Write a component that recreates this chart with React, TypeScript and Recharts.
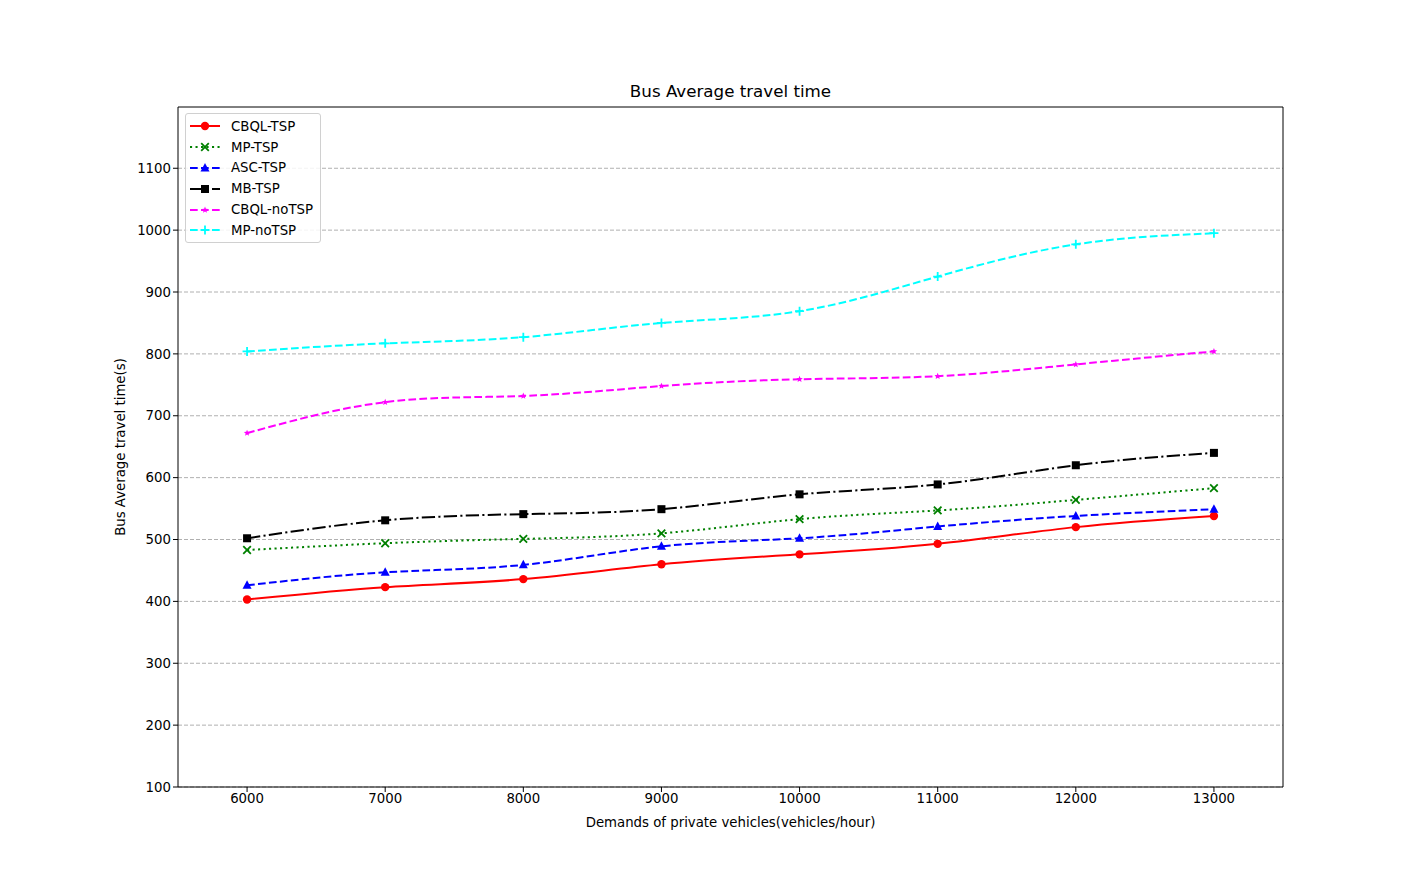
import React from 'react'
import { CartesianGrid, Legend, Line, LineChart, ReferenceLine, XAxis, YAxis } from 'recharts'

const demands = [6000, 7000, 8000, 9000, 10000, 11000, 12000, 13000]
const cbqlTsp = [403, 423, 436, 460, 476, 493, 520, 538]
const mpTsp = [483, 494, 501, 510, 533, 547, 564, 583]
const ascTsp = [426, 447, 459, 489, 502, 521, 538, 549]
const mbTsp = [502, 531, 541, 549, 573, 589, 620, 640]
const cbqlNoTsp = [672, 722, 732, 748, 759, 764, 783, 804]
const mpNoTsp = [804, 817, 827, 850, 869, 925, 977, 995]
const yTicks = [100, 200, 300, 400, 500, 600, 700, 800, 900, 1000, 1100]
const xTicks = [6000, 7000, 8000, 9000, 10000, 11000, 12000, 13000]

const FONT = '"DejaVu Sans", sans-serif'
const X_DOMAIN = [5500, 13500]
const Y_DOMAIN = [100, 1199]

type Shape = 'circle' | 'x' | 'triangle' | 'square' | 'star' | 'plus'

const series: { key: string; name: string; values: number[]; color: string; dash?: string; shape: Shape }[] = [
  { key: 'cbqlTsp', name: 'CBQL-TSP', values: cbqlTsp, color: '#ff0000', shape: 'circle' },
  { key: 'mpTsp', name: 'MP-TSP', values: mpTsp, color: '#008000', dash: '2.1 3.4', shape: 'x' },
  { key: 'ascTsp', name: 'ASC-TSP', values: ascTsp, color: '#0000ff', dash: '7.7 3.3', shape: 'triangle' },
  { key: 'mbTsp', name: 'MB-TSP', values: mbTsp, color: '#000000', dash: '13.3 3.3 2.1 3.3', shape: 'square' },
  { key: 'cbqlNoTsp', name: 'CBQL-noTSP', values: cbqlNoTsp, color: '#ff00ff', dash: '7.7 3.3', shape: 'star' },
  { key: 'mpNoTsp', name: 'MP-noTSP', values: mpNoTsp, color: '#00ffff', dash: '7.7 3.3', shape: 'plus' },
]

const data = demands.map((d, i) => {
  const row: Record<string, number> = { demand: d }
  series.forEach(s => { row[s.key] = s.values[i] })
  return row
})

const Marker = ({ cx, cy, shape, color }: { cx: number; cy: number; shape: Shape; color: string }) => {
  switch (shape) {
    case 'circle':
      return <circle cx={cx} cy={cy} r={4.2} fill={color} />
    case 'x':
      return <path d={`M${cx - 3.8},${cy - 3.8}L${cx + 3.8},${cy + 3.8}M${cx - 3.8},${cy + 3.8}L${cx + 3.8},${cy - 3.8}`} stroke={color} strokeWidth={1.8} />
    case 'triangle':
      return <path d={`M${cx},${cy - 5}L${cx + 4.5},${cy + 3.5}L${cx - 4.5},${cy + 3.5}Z`} fill={color} />
    case 'square':
      return <rect x={cx - 4} y={cy - 4} width={8} height={8} fill={color} />
    case 'star': {
      const pts: string[] = []
      for (let k = 0; k < 10; k++) {
        const r = k % 2 === 0 ? 3.4 : 1.5
        const a = -Math.PI / 2 + (k * Math.PI) / 5
        pts.push(`${cx + r * Math.cos(a)},${cy + r * Math.sin(a)}`)
      }
      return <polygon points={pts.join(' ')} fill={color} />
    }
    default:
      return <path d={`M${cx - 4.5},${cy}L${cx + 4.5},${cy}M${cx},${cy - 4.5}L${cx},${cy + 4.5}`} stroke={color} strokeWidth={1.8} />
  }
}

const LegendBox = () => (
  <div style={{ border: '1px solid #d0d0d0', borderRadius: 3, background: 'rgba(255,255,255,0.85)', padding: '2px 0 0 4px', width: 136, height: 130, boxSizing: 'border-box' }}>
    {series.map(s => (
      <div key={s.key} style={{ display: 'flex', alignItems: 'center', height: 20.8, whiteSpace: 'nowrap', fontFamily: FONT, fontSize: 13.3, color: '#000' }}>
        <svg width={30} height={12} style={{ marginRight: 11, overflow: 'visible' }}>
          <line x1={0} y1={6} x2={30} y2={6} stroke={s.color} strokeWidth={2} strokeDasharray={s.dash} />
          <Marker cx={15} cy={6} shape={s.shape} color={s.color} />
        </svg>
        {s.name}
      </div>
    ))}
  </div>
)

export default function App() {
  return (
    <div style={{ position: 'absolute', left: 0, top: 0, width: 1426, height: 884, background: '#fff' }}>
      <div style={{ position: 'absolute', left: 178, width: 1105, top: 81, textAlign: 'center', fontFamily: FONT, fontSize: 16.7 }}>
        Bus Average travel time
      </div>
      <LineChart width={1426} height={884} data={data} margin={{ top: 107, right: 143, bottom: 54, left: 118 }}>
        <CartesianGrid vertical={false} stroke="#b0b0b0" strokeDasharray="4 2" horizontalValues={yTicks} />
        <XAxis
          dataKey="demand"
          type="number"
          domain={X_DOMAIN}
          ticks={xTicks}
          height={43}
          tickSize={5}
          tickLine={{ stroke: '#000' }}
          axisLine={{ stroke: '#000' }}
          tick={{ fill: '#000', fontFamily: FONT, fontSize: 13.3 }}
          label={{ value: 'Demands of private vehicles(vehicles/hour)', position: 'insideBottom', offset: 3, fill: '#000', fontFamily: FONT, fontSize: 13.3 }}
        />
        <YAxis
          type="number"
          domain={Y_DOMAIN}
          ticks={yTicks}
          width={60}
          tickSize={5}
          tickLine={{ stroke: '#000' }}
          axisLine={{ stroke: '#000' }}
          tick={{ fill: '#000', fontFamily: FONT, fontSize: 13.3 }}
          label={{ value: 'Bus Average travel time(s)', angle: -90, position: 'insideLeft', offset: 2, textAnchor: 'middle', fill: '#000', fontFamily: FONT, fontSize: 13.3 }}
        />
        <ReferenceLine y={Y_DOMAIN[1]} stroke="#000" />
        <ReferenceLine x={X_DOMAIN[1]} stroke="#000" />
        {series.map(s => (
          <Line
            key={s.key}
            dataKey={s.key}
            name={s.name}
            type="natural"
            stroke={s.color}
            strokeWidth={2}
            strokeDasharray={s.dash}
            isAnimationActive={false}
            activeDot={false}
            dot={(p: any) => <Marker key={`${s.key}-${p.index}`} cx={p.cx} cy={p.cy} shape={s.shape} color={s.color} />}
          />
        ))}
        <Legend layout="vertical" align="center" verticalAlign="middle" content={() => <LegendBox />} wrapperStyle={{ position: 'absolute', left: 185, top: 113, width: 'auto' }} />
      </LineChart>
    </div>
  )
}
